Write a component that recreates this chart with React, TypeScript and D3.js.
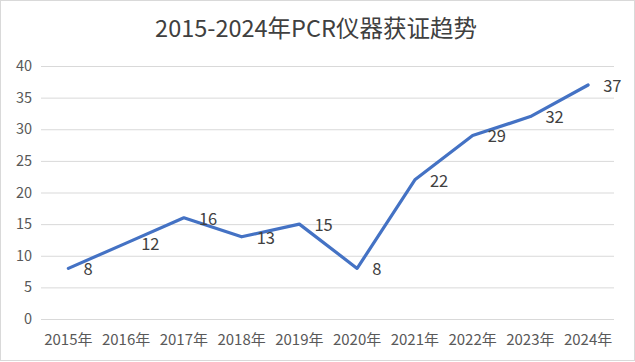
import React from "react";
import * as d3 from "d3";

const categories = ["2015年", "2016年", "2017年", "2018年", "2019年", "2020年", "2021年", "2022年", "2023年", "2024年"];
const values = [8, 12, 16, 13, 15, 8, 22, 29, 32, 37];
const yTicks = [0, 5, 10, 15, 20, 25, 30, 35, 40];
const title = "2015-2024年PCR仪器获证趋势";

const W = 635;
const H = 362;
const FONT = "'Noto Sans CJK SC', 'Noto Sans', sans-serif";

export default function App() {
  const x = d3.scaleBand<string>().domain(categories).range([39.5, 617]);
  const y = d3.scaleLinear().domain([0, 40]).range([319, 66]);
  const cx = (c: string) => (x(c) as number) + x.bandwidth() / 2;
  const line = d3
    .line<number>()
    .x((_, i) => cx(categories[i]))
    .y((d) => y(d));

  return (
    <div style={{ position: "absolute", left: 0, top: 0 }}>
      <svg width={W} height={H} style={{ display: "block" }}>
        <rect x={0.5} y={0.5} width={W - 1} height={H - 2} fill="#fff" stroke="#d9d9d9" />
        <text x={316} y={37} textAnchor="middle" fontFamily={FONT} fontSize={23.5} fill="#404040">
          {title}
        </text>
        {yTicks.map((t) => (
          <g key={t}>
            <line x1={41} x2={614} y1={y(t) + 0.5} y2={y(t) + 0.5} stroke="#d9d9d9" strokeWidth={1} />
            <text x={32} y={y(t)} dy="0.35em" textAnchor="end" fontFamily={FONT} fontSize={14.5} fill="#595959">
              {t}
            </text>
          </g>
        ))}
        {categories.map((c) => (
          <text
            key={c}
            x={cx(c)}
            y={339.5}
            dy="0.35em"
            textAnchor="middle"
            fontFamily={FONT}
            fontSize={15}
            fill="#595959"
          >
            {c}
          </text>
        ))}
        <path d={line(values) || ""} fill="none" stroke="#4472C4" strokeWidth={3.2} strokeLinejoin="round" strokeLinecap="round" />
        {values.map((v, i) => (
          <text
            key={i}
            x={cx(categories[i]) + 15}
            y={y(v) + 1}
            dy="0.35em"
            textAnchor="start"
            fontFamily={FONT}
            fontSize={16.5}
            fill="#404040"
          >
            {v}
          </text>
        ))}
      </svg>
    </div>
  );
}
